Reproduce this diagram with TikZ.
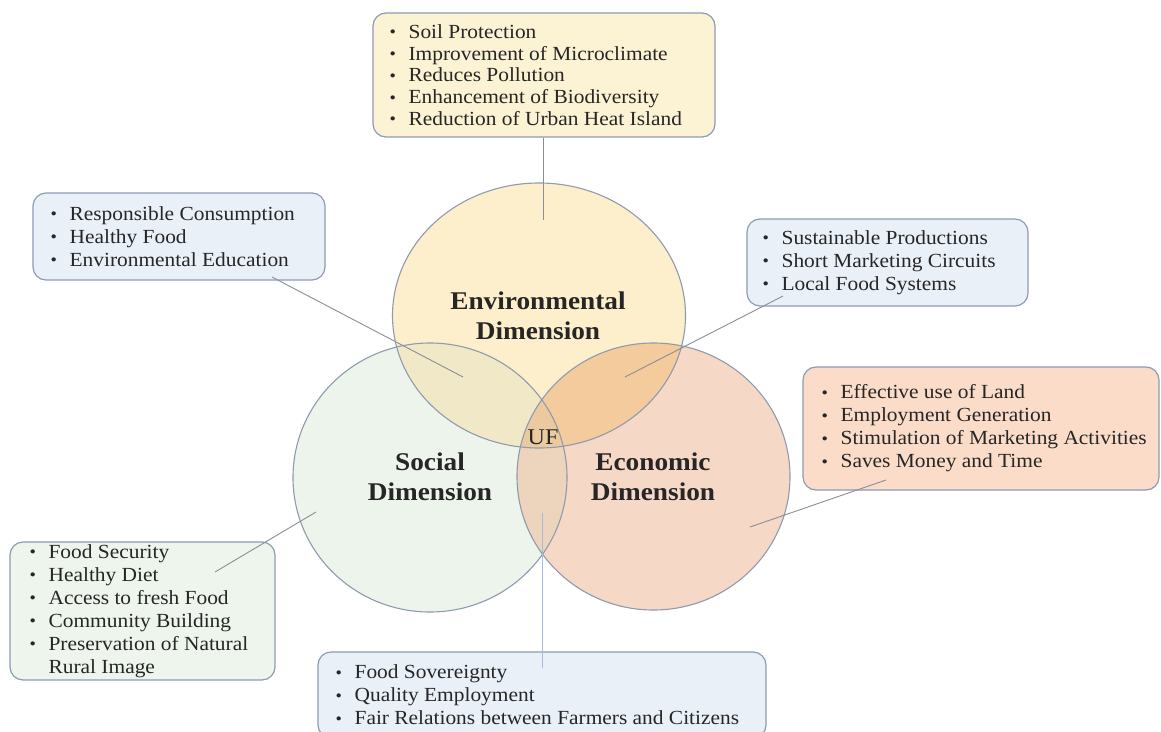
\documentclass[tikz,border=0pt]{standalone}
\usepackage{fontspec}
\setmainfont[FakeStretch=1.07]{Liberation Serif}
\usetikzlibrary{calc}
\definecolor{envc}{HTML}{FDEFCB}
\definecolor{socc}{HTML}{EDF4EC}
\definecolor{ecoc}{HTML}{F6D8C7}
\definecolor{envsoc}{HTML}{F1E8C8}
\definecolor{enveco}{HTML}{F4CB9C}
\definecolor{soceco}{HTML}{EDD4BC}
\definecolor{allc}{HTML}{ECCA9F}
\definecolor{ringc}{HTML}{8F9BAD}
\definecolor{boxc}{HTML}{8D9BB3}
\definecolor{yfill}{HTML}{FCF2D4}
\definecolor{bfill}{HTML}{EAF0F8}
\definecolor{ofill}{HTML}{FADCC9}
\definecolor{gfill}{HTML}{EEF5EC}
\definecolor{txtc}{HTML}{262626}
\definecolor{linec}{HTML}{8A8E96}
\definecolor{bluel}{HTML}{A9B9DB}
\newcommand{\bul}{\makebox[19pt][l]{\fontsize{17}{17}\selectfont\raisebox{0.5pt}{\textbullet}}}
\begin{document}
\begin{tikzpicture}[x=1pt,y=-1pt,
  ring/.style={draw=ringc, line width=1.1pt},
  boxs/.style={draw=boxc, line width=1.2pt, rounded corners=13pt, inner sep=0pt},
  txt/.style={inner sep=0pt, anchor=west, align=left, text=txtc, font=\fontsize{20}{23}\selectfont},
  lbl/.style={inner sep=0pt, align=center, text=txtc, font=\fontsize{25.5}{30}\selectfont\bfseries},
  conn/.style={draw=linec, line width=0.9pt}]
\useasboundingbox (0,0) rectangle (1161,731);
\fill[white] (0,0) rectangle (1161,731);
\def\envP{(539,315.5) ellipse [x radius=146.5pt, y radius=132.5pt]}
\def\socP{(430,477.5) ellipse [x radius=137pt, y radius=134.5pt]}
\def\ecoP{(653.5,476.5) ellipse [x radius=136.5pt, y radius=133.5pt]}
% base fills
\fill[envc] \envP;
\fill[socc] \socP;
\fill[ecoc] \ecoP;
% overlaps
\begin{scope}\clip \envP; \fill[envsoc] \socP; \end{scope}
\begin{scope}\clip \envP; \fill[enveco] \ecoP; \end{scope}
\begin{scope}\clip \socP; \fill[soceco] \ecoP; \end{scope}
\begin{scope}\clip \envP; \clip \socP; \fill[allc] \ecoP; \end{scope}
% outlines
\draw[ring] \envP;
\draw[ring] \socP;
\draw[ring] \ecoP;
% labels
\node[lbl] (envl) at (538,316) {Environmental\\Dimension};
\node[lbl] (socl) at (430,477) {Social\\Dimension};
\node[lbl] (ecol) at (653,477) {Economic\\Dimension};
\node[inner sep=0pt, text=txtc, font=\fontsize{22.5}{26}\selectfont] (uf) at (543,437) {UF};
% boxes
\node[boxs, fill=yfill, minimum width=342pt, minimum height=124pt] (b1) at (544,75) {};
\node[txt, font=\fontsize{20}{21.7}\selectfont] (t1) at ($(b1.west)+(17,0)$) {\bul Soil Protection\\\bul Improvement of Microclimate\\\bul Reduces Pollution\\\bul Enhancement of Biodiversity\\\bul Reduction of Urban Heat Island};
\node[boxs, fill=bfill, minimum width=292pt, minimum height=87pt] (b2) at (179,236.5) {};
\node[txt] (t2) at ($(b2.west)+(18,0)$) {\bul Responsible Consumption\\\bul Healthy Food\\\bul Environmental Education};
\node[boxs, fill=bfill, minimum width=281pt, minimum height=87pt] (b3) at (887.5,262.5) {};
\node[txt] (t3) at ($(b3.west)+(16,0)$) {\bul Sustainable Productions\\\bul Short Marketing Circuits\\\bul Local Food Systems};
\node[boxs, fill=ofill, minimum width=356pt, minimum height=123pt] (b4) at (981,428.5) {};
\node[txt] (t4) at ($(b4.west)+(19,0)$) {\bul Effective use of Land\\\bul Employment Generation\\\bul Stimulation of Marketing Activities\\\bul Saves Money and Time};
\node[boxs, fill=gfill, minimum width=265pt, minimum height=138pt] (b5) at (142.5,611) {};
\node[txt] (t5) at ($(b5.west)+(20,0)$) {\bul Food Security\\\bul Healthy Diet\\\bul Access to fresh Food\\\bul Community Building\\\bul Preservation of Natural\\\hspace*{19pt}Rural Image};
\node[boxs, fill=bfill, minimum width=448pt, minimum height=86pt] (b6) at (542,695) {};
\node[txt] (t6) at ($(b6.west)+(18,0)$) {\bul Food Sovereignty\\\bul Quality Employment\\\bul Fair Relations between Farmers and Citizens};
% connector end points
\coordinate (e1) at (543,220);
\coordinate (s2) at (272,277);
\coordinate (e2) at (463,377);
\coordinate (s3) at (783,296);
\coordinate (e3) at (625,377);
\coordinate (s4) at (886,480);
\coordinate (e4) at (750,527);
\coordinate (s5) at (215,572);
\coordinate (e5) at (316,512);
\coordinate (s6) at (542,668);
\coordinate (e6) at (542,513);
% connectors
\draw[conn] (e1 |- b1.south) -- (e1);
\draw[conn] (s2) -- (e2);
\draw[conn] (s3) -- (e3);
\draw[conn] (s4) -- (e4);
\draw[conn] (s5) -- (e5);
\draw[conn, draw=bluel] (s6) -- (e6);
\end{tikzpicture}
\end{document}
